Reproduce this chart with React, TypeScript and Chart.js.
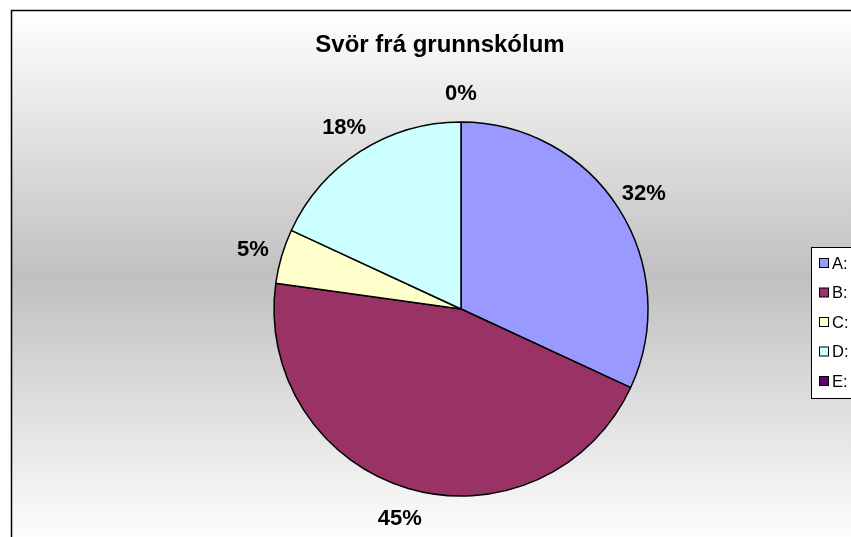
import React, { useEffect, useRef } from "react";
import { Chart, registerables } from "chart.js";

Chart.register(...registerables);

const TITLE = "Svör frá grunnskólum";
const categories = ["A:", "B:", "C:", "D:", "E:"];
const shares = [31.9, 45.3, 4.7, 18.1, 0];
const colors = ["#9999FF", "#993366", "#FFFFCC", "#CCFFFF", "#660066"];

const W = 851;
const H = 537;
const FONT = "'Liberation Sans', Arial, sans-serif";

const decor = {
  id: "decor",
  beforeDraw(chart: any) {
    const ctx = chart.ctx as CanvasRenderingContext2D;
    ctx.save();
    ctx.fillStyle = "#ffffff";
    ctx.fillRect(0, 0, W, H);
    const g = ctx.createLinearGradient(0, 10, 0, 545);
    g.addColorStop(0, "#ffffff");
    g.addColorStop(0.5, "#c0c0c0");
    g.addColorStop(1, "#ffffff");
    ctx.fillStyle = g;
    ctx.fillRect(11, 10, W + 20, H + 20);
    ctx.strokeStyle = "#000000";
    ctx.lineWidth = 1.5;
    ctx.strokeRect(11.5, 10.5, W + 20, H + 20);
    ctx.restore();
  },
  afterDraw(chart: any) {
    const ctx = chart.ctx as CanvasRenderingContext2D;
    ctx.save();
    // title
    ctx.fillStyle = "#000000";
    ctx.font = `bold 24px ${FONT}`;
    ctx.textAlign = "center";
    ctx.textBaseline = "alphabetic";
    ctx.fillText(TITLE, 440, 52);

    // data labels
    const data = chart.data.datasets[0].data as number[];
    const total = data.reduce((a, b) => a + b, 0);
    const meta = chart.getDatasetMeta(0);
    ctx.font = `bold 22px ${FONT}`;
    ctx.textBaseline = "middle";
    meta.data.forEach((arc: any, i: number) => {
      const p = arc.getProps(["x", "y", "startAngle", "endAngle", "outerRadius"], true);
      const mid = (p.startAngle + p.endAngle) / 2;
      const d = p.outerRadius + 30;
      const lx = p.x + Math.cos(mid) * d;
      const ly = p.y + Math.sin(mid) * d;
      const pct = Math.round((data[i] / total) * 100) + "%";
      ctx.fillText(pct, lx, ly + 2);
    });

    // legend
    const bx = 811.5;
    const by = 247.5;
    ctx.fillStyle = "#ffffff";
    ctx.fillRect(bx, by, 120, 151);
    ctx.strokeStyle = "#000000";
    ctx.lineWidth = 1;
    ctx.strokeRect(bx, by, 120, 151);
    ctx.font = `16.5px ${FONT}`;
    ctx.textAlign = "left";
    ctx.textBaseline = "middle";
    (chart.data.labels as string[]).forEach((lab, i) => {
      const cy = 263 + i * 29.5;
      ctx.fillStyle = colors[i];
      ctx.fillRect(819.5, cy - 4.5, 9, 9);
      ctx.strokeStyle = "#000000";
      ctx.strokeRect(819.5, cy - 4.5, 9, 9);
      ctx.fillStyle = "#000000";
      ctx.fillText(lab, 832, cy + 1);
    });
    ctx.restore();
  },
};

export default function App() {
  const ref = useRef<HTMLCanvasElement | null>(null);
  useEffect(() => {
    if (!ref.current) return;
    const chart = new Chart(ref.current, {
      type: "pie",
      data: {
        labels: categories,
        datasets: [
          {
            data: shares,
            backgroundColor: colors,
            borderColor: "#000000",
            borderWidth: 1.5,
          },
        ],
      },
      options: {
        responsive: false,
        animation: false,
        devicePixelRatio: 1,
        layout: {
          padding: { left: 273.25, top: 121.25, right: 202.25, bottom: 40.25 },
        },
        plugins: {
          legend: { display: false },
          title: { display: false },
          tooltip: { enabled: false },
        },
      },
      plugins: [decor],
    });
    return () => chart.destroy();
  }, []);
  return (
    <div style={{ position: "fixed", left: 0, top: 0, width: W, height: H, overflow: "hidden" }}>
      <canvas ref={ref} width={W} height={H} style={{ display: "block", width: W, height: H }} />
    </div>
  );
}
